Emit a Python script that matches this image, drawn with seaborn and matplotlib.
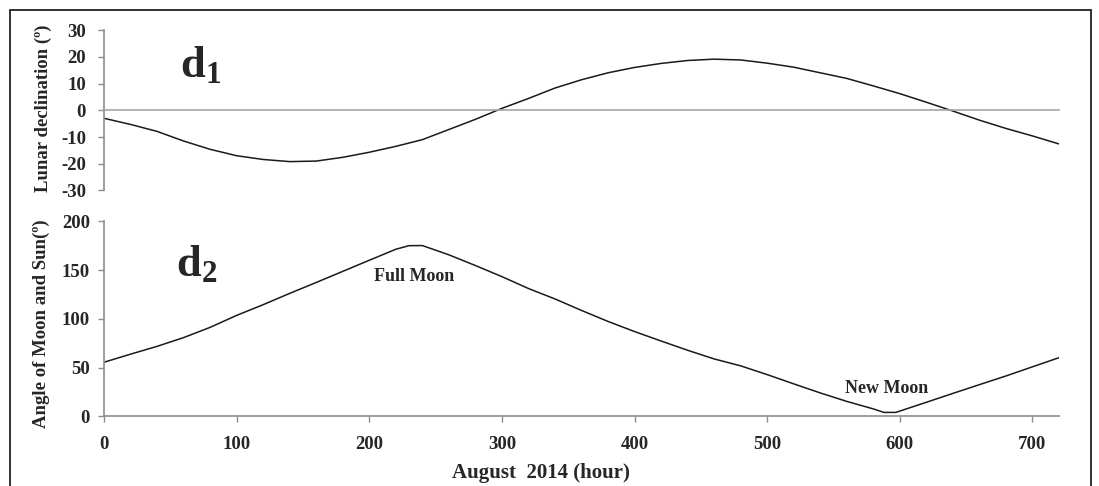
import matplotlib
matplotlib.use("Agg")
import matplotlib.pyplot as plt
import seaborn as sns
import pandas as pd
from matplotlib.patches import Rectangle

# Lunar declination (degrees) sampled every 20 hours through August 2014
decl_hours = [0, 20, 40, 60, 80, 100, 120, 140, 160, 180, 200, 220, 240, 260,
              280, 300, 320, 340, 360, 380, 400, 420, 440, 460, 480, 500, 520,
              540, 560, 580, 600, 620, 640, 660, 680, 700, 720]
declination = [-3.0, -5.3, -7.9, -11.5, -14.6, -17.0, -18.4, -19.2, -19.0,
               -17.6, -15.7, -13.5, -11.0, -7.2, -3.4, 0.7, 4.4, 8.3, 11.4,
               14.0, 16.0, 17.5, 18.6, 19.1, 18.8, 17.6, 16.1, 14.0, 11.9,
               9.1, 6.2, 3.0, -0.3, -3.7, -6.8, -9.6, -12.6]

# Angle between Moon and Sun (degrees)
angle_hours = [0, 20, 40, 60, 80, 100, 120, 140, 160, 180, 200, 220, 230, 240,
               260, 280, 300, 320, 340, 360, 380, 400, 420, 440, 460, 480, 500,
               520, 540, 560, 580, 588, 597, 620, 640, 660, 680, 700, 720]
moon_sun_angle = [55.5, 63.8, 71.8, 80.8, 91.3, 103.6, 114.6, 126.2, 137.4,
                  148.8, 160.2, 171.5, 175.2, 175.3, 165.8, 154.8, 143.4,
                  131.2, 120.5, 108.7, 97.4, 87.0, 77.3, 67.8, 58.9, 51.8,
                  42.8, 33.3, 24.0, 15.3, 7.6, 4.0, 4.0, 14.4, 23.5, 32.5,
                  41.4, 50.8, 60.2]

decl_ticks = [-30, -20, -10, 0, 10, 20, 30]
angle_ticks = [0, 50, 100, 150, 200]
hour_ticks = [0, 100, 200, 300, 400, 500, 600, 700]

sns.set_style("white")
plt.rcParams["font.family"] = ["Liberation Serif", "DejaVu Serif"]
plt.rcParams["font.weight"] = "bold"
plt.rcParams["mathtext.fontset"] = "custom"
plt.rcParams["mathtext.rm"] = "Liberation Serif:bold"
plt.rcParams["mathtext.bf"] = "Liberation Serif:bold"
plt.rcParams["mathtext.it"] = "Liberation Serif:bold"

W, H = 1099, 486
fig = plt.figure(figsize=(W / 100, H / 100), dpi=100)
fig.patch.set_facecolor("white")

def fx(px):
    return px / W

def fy(py):
    return 1 - py / H

ax1 = fig.add_axes([fx(104), fy(190.5), fx(1059) - fx(104), fy(30) - fy(190.5)])
ax2 = fig.add_axes([fx(104), fy(416.3), fx(1059) - fx(104), fy(221.5) - fy(416.3)])

line_color = "#1a1a1a"
spine_color = "#8c8c8c"

df1 = pd.DataFrame({"hour": decl_hours, "decl": declination})
df2 = pd.DataFrame({"hour": angle_hours, "angle": moon_sun_angle})

sns.lineplot(data=df1, x="hour", y="decl", ax=ax1, color=line_color, lw=1.1)
sns.lineplot(data=df2, x="hour", y="angle", ax=ax2, color=line_color, lw=1.1)

tick_font = dict(fontsize=13.5, fontweight="bold", family="Liberation Serif")

# upper panel: declination with the horizontal axis passing through zero
ax1.set_xlim(0, 720)
ax1.set_ylim(-30, 30)
ax1.set_yticks(decl_ticks)
ax1.set_yticklabels([str(t) for t in decl_ticks], **tick_font)
ax1.set_xticks([])
for s in ["top", "right"]:
    ax1.spines[s].set_visible(False)
ax1.spines["bottom"].set_position(("data", 0))
ax1.spines["bottom"].set_color("#a6a6a6")
ax1.spines["bottom"].set_linewidth(1.2)
ax1.spines["left"].set_color(spine_color)
ax1.spines["left"].set_linewidth(1.2)
ax1.tick_params(axis="y", direction="out", length=4, width=1.0,
                color=spine_color, pad=9, left=True)
ax1.set_xlabel("")
ax1.set_ylabel("Lunar declination (º)", fontsize=13.5, fontweight="bold",
               va="center")
ax1.yaxis.set_label_coords(-0.0634, 0.511)
ax1.text(57, 12.4, r"$\mathdefault{d_1}$", fontsize=32, fontweight="bold",
         ha="left", va="baseline")

# lower panel: angle between Moon and Sun
ax2.set_xlim(0, 720)
ax2.set_ylim(0, 200)
ax2.set_yticks(angle_ticks)
ax2.set_yticklabels([str(t) for t in angle_ticks], **tick_font)
ax2.set_xticks(hour_ticks)
ax2.set_xticklabels([str(t) for t in hour_ticks], **tick_font)
for s in ["top", "right"]:
    ax2.spines[s].set_visible(False)
for s in ["left", "bottom"]:
    ax2.spines[s].set_color(spine_color)
    ax2.spines[s].set_linewidth(1.2)
ax2.tick_params(axis="y", direction="out", length=4, width=1.0,
                color=spine_color, pad=6, left=True)
ax2.tick_params(axis="x", direction="out", length=4, width=1.0,
                color=spine_color, pad=10, bottom=True)
ax2.set_ylabel("Angle of Moon and Sun(º)", fontsize=13.5, fontweight="bold",
               va="center")
ax2.yaxis.set_label_coords(-0.0654, 0.474)
ax2.set_xlabel("August  2014 (hour)", fontsize=15, fontweight="bold")
ax2.xaxis.set_label_coords(0.458, -0.238)
ax2.text(54, 144, r"$\mathdefault{d_2}$", fontsize=32, fontweight="bold",
         ha="left", va="baseline")
ax2.text(233.7, 139, "Full Moon", fontsize=13, fontweight="bold",
         ha="center", va="baseline")
ax2.text(590, 24, "New Moon", fontsize=13, fontweight="bold",
         ha="center", va="baseline")

# outer frame around the whole chart
fig.add_artist(Rectangle((fx(9.5), fy(500)), fx(1090.5) - fx(9.5), fy(10) - fy(500),
                         transform=fig.transFigure, fill=False,
                         edgecolor="#222222", lw=1.3))

fig.savefig("out.png", dpi=100)
